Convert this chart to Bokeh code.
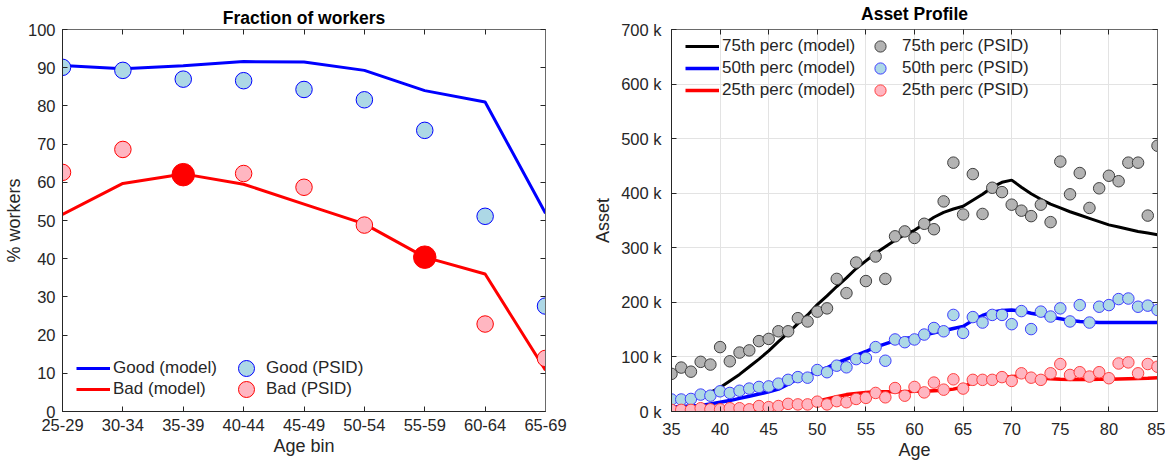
from bokeh.plotting import figure
from bokeh.layouts import row
from bokeh.models import (Range1d, FixedTicker, SingleIntervalTicker, Legend, LinearAxis,
                          LegendItem, PrintfTickFormatter, ColumnDataSource)
from bokeh.embed import file_html
from bokeh.resources import INLINE

# ---------------- data: fraction of workers ----------------
age_bins = ["25-29", "30-34", "35-39", "40-44", "45-49", "50-54", "55-59", "60-64", "65-69"]
good_model = [90.6, 89.7, 90.5, 91.6, 91.5, 89.3, 84.0, 81.0, 51.9]
good_psid = [90.1, 89.3, 87.0, 86.6, 84.3, 81.6, 73.6, 51.1, 27.6]
bad_model = [51.6, 59.7, 62.2, 59.5, 54.3, 49.1, 40.4, 36.0, 10.8]
bad_psid = [62.6, 68.6, 62.0, 62.3, 58.7, 48.8, 40.4, 22.9, 13.9]
highlight_bins = ["35-39", "55-59"]

# ---------------- data: asset profile (thousands) ----------------
ages = list(range(35, 86))
p75_model = [20, 22, 25, 29, 35, 44, 56, 68, 82, 96, 111, 128, 144, 161, 177,
             196, 212, 229, 245, 262, 276, 290, 302, 314, 324, 332, 344, 356, 365, 371,
             376, 387, 398, 411, 420, 424, 411, 399, 389, 380, 373, 366, 360, 354, 348,
             342, 338, 334, 330, 327, 324]
p50_model = [8, 9, 10, 11, 14, 17, 20, 24, 28, 32, 36, 41, 50, 60, 65,
             74, 80, 89, 96, 103, 110, 118, 124, 130, 134, 136, 140, 144, 148, 152,
             156, 167, 176, 182, 185, 186, 184, 180, 177, 173, 170, 167, 165, 164, 163,
             163, 163, 163, 163, 163, 163]
p25_model = [3, 3.5, 4, 5, 6, 7, 7.5, 8, 8.5, 9, 10, 11, 12.5, 14, 16,
             19, 23, 27, 31, 33, 35, 36, 36, 36, 36, 37, 37, 38, 39, 41,
             45, 53, 57, 59, 62, 64, 65, 63, 61, 60, 59, 58.5, 58.5, 58.5, 59,
             59, 59.5, 60, 60.5, 61, 62]
p75_psid = [69, 80.5, 73, 91, 86, 118, 92, 108, 112, 129, 133, 147, 147, 171, 165,
            183, 189, 243, 217, 273, 239, 284, 243, 321, 330, 318, 344, 334, 385, 456,
            361, 435, 362, 410, 402, 379, 368, 358, 379, 347, 458, 398, 437, 373, 409,
            432, 422, 456, 456, 359, 487]
p50_psid = [22, 22, 23, 31, 29, 37, 34, 38, 42, 45, 46, 51, 58, 63, 62,
            76, 72, 84, 81, 96, 98, 118, 93, 132, 127, 132, 141, 153, 147, 177,
            144, 173, 163, 177, 177, 160, 184, 151, 183, 174, 189, 165, 195, 163, 192,
            195, 206, 207, 192, 194, 186]
p25_psid = [3, 3, 3, 6, 4, 4, 6, 6, 4, 10, 8, 10, 14, 13, 13,
            18, 13, 19, 17, 23, 25, 34, 26, 43, 29, 45, 35, 53, 40, 59,
            42, 58, 58, 58, 63, 56, 70, 62, 58, 70, 87, 67, 72, 64, 72,
            61, 88, 90, 70, 87, 82]

FONT = "Liberation Sans"
AX = "#262626"
BOX = "#6a6a6a"
TICK_FS = "16.5px"
LAB_FS = "18px"
LEG_FS = "17px"
H = 462
BT, BB = 25, 49          # top / bottom borders -> frame height 388
FH = H - BT - BB


def style(p, xticker, yticker):
    p.title.text_font = FONT
    p.title.text_font_size = "17.5px"
    p.title.text_font_style = "bold"
    p.title.align = "center"
    p.title.text_color = "black"
    p.title.standoff = 3
    p.outline_line_color = BOX
    p.outline_line_width = 1
    p.background_fill_color = "white"
    p.border_fill_color = "white"
    for ax in p.xaxis + p.yaxis:
        ax.axis_line_color = AX
        ax.major_tick_line_color = AX
        ax.major_tick_in = 5
        ax.major_tick_out = 0
        ax.minor_tick_line_color = None
        ax.major_label_text_font = FONT
        ax.major_label_text_font_size = TICK_FS
        ax.major_label_text_color = AX
        ax.axis_label_text_font = FONT
        ax.axis_label_text_font_size = LAB_FS
        ax.axis_label_text_font_style = "normal"
        ax.axis_label_text_color = AX
    p.xaxis.major_label_standoff = 7
    p.xaxis.axis_label_standoff = 2
    # tick marks on the top and right edges of the box (no labels)
    for side, tk in (("above", xticker), ("right", yticker)):
        box_ax = LinearAxis(ticker=tk, major_tick_in=5, major_tick_out=0,
                            major_label_text_color=None, major_label_text_font_size="1px",
                            major_label_standoff=0, axis_line_color=BOX,
                            major_tick_line_color=AX, minor_tick_line_color=None)
        p.add_layout(box_ax, side)


def add_legend(p, items, loc, gw, gh, standoff, spacing):
    lg = Legend(items=items, location=loc, glyph_width=gw, glyph_height=gh, label_height=20,
                label_standoff=standoff, spacing=spacing, padding=0, margin=0)
    lg.label_text_font = FONT
    lg.label_text_font_size = LEG_FS
    lg.label_text_color = AX
    lg.border_line_color = None
    lg.background_fill_alpha = 0
    p.add_layout(lg, "center")


# ---------------- left panel ----------------
xi = list(range(len(age_bins)))
p1 = figure(width=590, height=H, output_backend="svg", toolbar_location=None,
            title="Fraction of workers",
            x_range=Range1d(0, len(age_bins) - 1), y_range=Range1d(0, 100),
            min_border_left=56, min_border_right=45, min_border_top=BT, min_border_bottom=BB)
x_tk1 = FixedTicker(ticks=xi)
y_tk1 = FixedTicker(ticks=list(range(0, 101, 10)))
p1.xaxis.ticker = x_tk1
p1.xaxis.major_label_overrides = {i: b for i, b in enumerate(age_bins)}
p1.yaxis.ticker = y_tk1
p1.xaxis.axis_label = "Age bin"
p1.yaxis.axis_label = "% workers"
p1.xgrid.visible = False
p1.ygrid.visible = False
style(p1, x_tk1, y_tk1)
p1.yaxis[0].major_label_standoff = 7
p1.yaxis[0].axis_label_standoff = 1

src1 = ColumnDataSource(dict(x=xi, gm=good_model, gp=good_psid, bm=bad_model, bp=bad_psid))
r_gm = p1.line("x", "gm", source=src1, line_color="#0000ff", line_width=3)
r_bm = p1.line("x", "bm", source=src1, line_color="#ff0000", line_width=3)
r_gp = p1.scatter("x", "gp", source=src1, size=16.5, fill_color="#add8e6", line_color="#0000ff", line_width=1)
r_bp = p1.scatter("x", "bp", source=src1, size=16.5, fill_color="#ffb6c1", line_color="#ff0000", line_width=1)
hi = [age_bins.index(b) for b in highlight_bins]
p1.scatter([xi[i] for i in hi], [bad_psid[i] for i in hi], size=22.5,
           fill_color="#ff0000", line_color="#ff0000")

add_legend(p1, [LegendItem(label="Good (model)", renderers=[r_gm]),
                LegendItem(label="Bad (model)", renderers=[r_bm])], (14, 12), 34, 20, 3, 1)
add_legend(p1, [LegendItem(label="Good (PSID)", renderers=[r_gp])], (164, 23), 40, 40, 0, 0)
add_legend(p1, [LegendItem(label="Bad (PSID)", renderers=[r_bp])], (164, 2), 40, 40, 0, 0)

# ---------------- right panel ----------------
p2 = figure(width=575, height=H, output_backend="svg", toolbar_location=None,
            title="Asset Profile",
            x_range=Range1d(35, 85), y_range=Range1d(0, 700),
            min_border_left=75, min_border_right=8, min_border_top=BT, min_border_bottom=BB)
x_tk2 = SingleIntervalTicker(interval=5)
y_tk2 = SingleIntervalTicker(interval=100)
p2.xaxis.ticker = x_tk2
p2.yaxis.ticker = y_tk2
p2.yaxis.formatter = PrintfTickFormatter(format="%d k")
p2.xaxis.axis_label = "Age"
p2.yaxis.axis_label = "Asset"
p2.xgrid.ticker = x_tk2
p2.ygrid.ticker = y_tk2
for g in (p2.xgrid, p2.ygrid):
    g.grid_line_color = "#e3e3e3"
    g.grid_line_width = 1
style(p2, x_tk2, y_tk2)
p2.yaxis[0].major_label_standoff = 6
p2.yaxis[0].axis_label_standoff = 5

src2 = ColumnDataSource(dict(age=ages, m75=p75_model, m50=p50_model, m25=p25_model,
                             d75=p75_psid, d50=p50_psid, d25=p25_psid))
r75m = p2.line("age", "m75", source=src2, line_color="black", line_width=3)
r50m = p2.line("age", "m50", source=src2, line_color="#0000ff", line_width=3.5)
r25m = p2.line("age", "m25", source=src2, line_color="#ff0000", line_width=3.5)
r75d = p2.scatter("age", "d75", source=src2, size=11.5, fill_color="#b3b3b3", line_color="#404040", line_width=1)
r50d = p2.scatter("age", "d50", source=src2, size=11.5, fill_color="#add8e6", line_color="#3f3fff", line_width=1)
r25d = p2.scatter("age", "d25", source=src2, size=11.5, fill_color="#ffb6c1", line_color="#ff4040", line_width=1)

add_legend(p2, [LegendItem(label="75th perc (model)", renderers=[r75m]),
                LegendItem(label="50th perc (model)", renderers=[r50m]),
                LegendItem(label="25th perc (model)", renderers=[r25m])],
           (14, FH - 77), 34, 20, 3, 2)
for k, (lab, r) in enumerate([("75th perc (PSID)", r75d), ("50th perc (PSID)", r50d),
                              ("25th perc (PSID)", r25d)]):
    add_legend(p2, [LegendItem(label=lab, renderers=[r])], (195, FH - 37 - 22 * k), 28, 28, 8, 0)

layout = row(p1, p2)
open("out.html", "w").write(file_html(layout, INLINE))
